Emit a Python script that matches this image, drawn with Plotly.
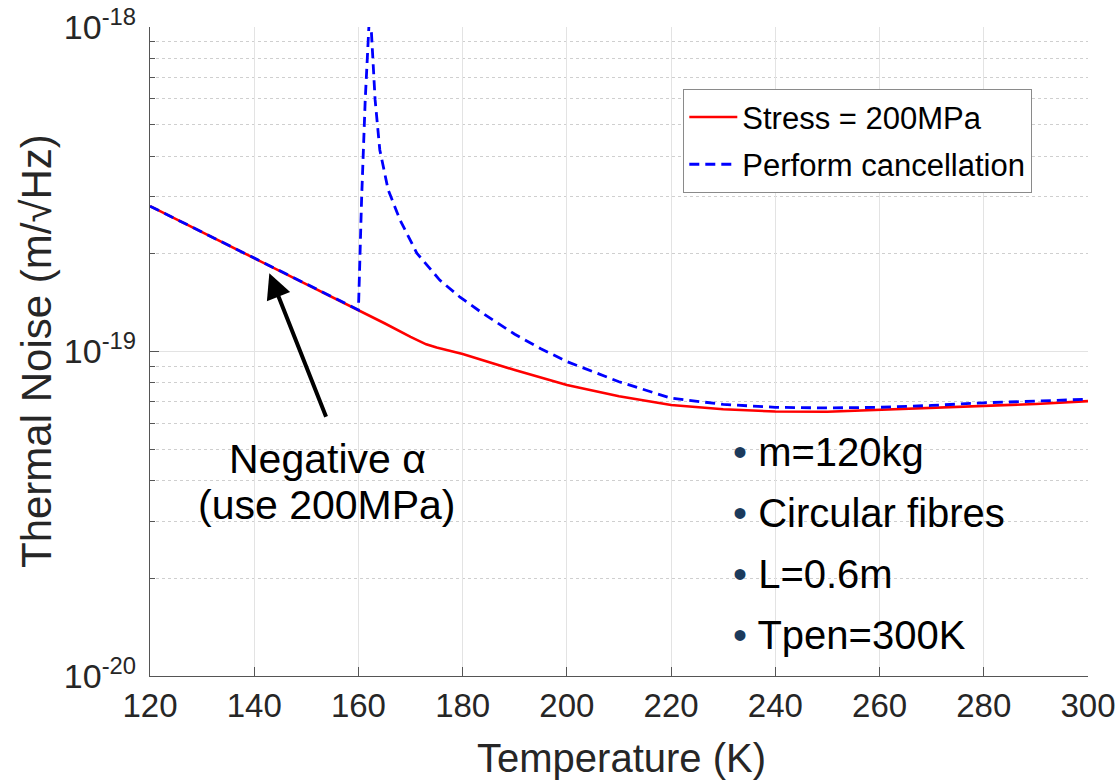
import plotly.graph_objects as go

# ---------------- data ----------------
temp_stress = [120, 125, 130, 135, 140, 145, 150, 155, 160, 165, 170, 173, 175,
               180, 190, 200, 210, 220, 230, 240, 250, 260, 270, 280, 290, 300]
noise_stress = [2.805e-19, 2.559e-19, 2.333e-19, 2.128e-19, 1.941e-19, 1.770e-19,
                1.614e-19, 1.472e-19, 1.343e-19, 1.222e-19, 1.109e-19, 1.052e-19,
                1.028e-19, 9.82e-20, 8.77e-20, 7.89e-20, 7.28e-20, 6.84e-20,
                6.64e-20, 6.53e-20, 6.52e-20, 6.61e-20, 6.67e-20, 6.76e-20,
                6.89e-20, 7.03e-20]

temp_cancel = [120, 125, 130, 135, 140, 145, 150, 155, 160, 160.6, 161.3, 162.0,
               162.2, 162.5, 163.2, 164.1, 165.7, 168.0, 171.2, 175.6, 179.5,
               183.3, 190, 195, 200, 210, 220, 230, 240, 250, 260, 270, 280, 290, 300]
noise_cancel = [2.805e-19, 2.559e-19, 2.333e-19, 2.128e-19, 1.941e-19, 1.770e-19,
                1.614e-19, 1.472e-19, 1.343e-19, 2.93e-19, 5.96e-19, 1.0e-18,
                1.023e-18, 9.57e-19, 5.96e-19, 4.18e-19, 3.15e-19, 2.54e-19,
                2.01e-19, 1.66e-19, 1.47e-19, 1.33e-19, 1.13e-19, 1.02e-19,
                9.31e-20, 8.07e-20, 7.18e-20, 6.87e-20, 6.73e-20, 6.70e-20,
                6.73e-20, 6.82e-20, 6.95e-20, 7.03e-20, 7.13e-20]

series_names = ["Stress = 200MPa", "Perform cancellation"]
x_ticks = [120, 140, 160, 180, 200, 220, 240, 260, 280, 300]
y_tick_vals = [1e-20, 1e-19, 1e-18]
y_tick_text = ["10<sup>-20</sup>", "10<sup>-19</sup>", "10<sup>-18</sup>"]
bullet_items = ["m=120kg", "Circular fibres", "L=0.6m", "Tpen=300K"]
note_lines = ["Negative α", "(use 200MPa)"]
x_title = "Temperature (K)"
y_title = "Thermal Noise (m/√Hz)"

# ---------------- figure ----------------
FONT = "Liberation Sans, Arial, Helvetica, sans-serif"
W, H = 1119, 780
ML, MR, MT, MB = 150, 31, 27, 104
PW, PH = W - ML - MR, H - MT - MB


def px_x(p):
    return (p - ML) / PW


def px_y(p):
    return (H - MB - p) / PH


fig = go.Figure()
fig.add_trace(go.Scatter(
    x=temp_stress, y=noise_stress, mode="lines", name=series_names[0],
    legendgroup="a",
    line=dict(color="#ff0000", width=2.6)))
fig.add_trace(go.Scatter(
    x=temp_cancel, y=noise_cancel, mode="lines", name=series_names[1],
    legendgroup="b",
    line=dict(color="#0000ff", width=2.8, dash="10px,6px")))

minor_vals = [k * 10.0 ** e for e in (-20, -19) for k in range(2, 10)]

fig.update_xaxes(
    range=[120, 300], tickmode="array", tickvals=x_ticks,
    showgrid=True, gridcolor="#e3e3e3", gridwidth=1,
    showline=True, linecolor="#555555", linewidth=1.3,
    ticks="inside", ticklen=9, tickcolor="#555555", tickwidth=1,
    tickfont=dict(family=FONT, size=33, color="#262626"),
    zeroline=False, mirror=False,
)
fig.update_yaxes(
    type="log", range=[-20, -18], tickmode="array",
    tickvals=y_tick_vals, ticktext=y_tick_text,
    showgrid=True, gridcolor="#e3e3e3", gridwidth=1,
    showline=True, linecolor="#555555", linewidth=1.3,
    ticks="inside", ticklen=9, tickcolor="#555555", tickwidth=1,
    ticklabelstandoff=6,
    tickfont=dict(family=FONT, size=34, color="#262626"),
    minor=dict(tickmode="array", tickvals=minor_vals, ticks="inside",
               ticklen=5, tickcolor="#555555", showgrid=True,
               gridcolor="#cfcfcf", griddash="dot", gridwidth=1),
    zeroline=False, mirror=False,
)

annotations = []
# axis titles
annotations.append(dict(
    text=x_title, xref="paper", yref="paper", x=px_x(621), y=px_y(758),
    xanchor="center", yanchor="middle", showarrow=False,
    font=dict(family=FONT, size=40, color="#262626")))
annotations.append(dict(
    text=y_title, xref="paper", yref="paper", x=px_x(36), y=px_y(351),
    xanchor="center", yanchor="middle", showarrow=False, textangle=-90,
    font=dict(family=FONT, size=42, color="#262626")))
# arrow
annotations.append(dict(
    x=142.9, y=-18.759, ax=153.9, ay=-19.206, xref="x", yref="y",
    axref="x", ayref="y", text="", showarrow=True,
    arrowhead=2, arrowwidth=4, arrowsize=1.25, arrowcolor="#000000"))
# note text
for line, ypx in zip(note_lines, [459, 505]):
    annotations.append(dict(
        text=line, xref="paper", yref="paper", x=px_x(327), y=px_y(ypx),
        xanchor="center", yanchor="middle", showarrow=False,
        font=dict(family=FONT, size=41, color="#000000")))
# bullet list
for item, ypx in zip(bullet_items, [452, 513, 574, 635]):
    annotations.append(dict(
        text='<span style="color:#1b3a5c">•</span> ' + item,
        xref="paper", yref="paper", x=px_x(731), y=px_y(ypx),
        xanchor="left", yanchor="middle", showarrow=False,
        font=dict(family=FONT, size=40, color="#000000")))

fig.update_layout(
    width=W, height=H,
    margin=dict(l=ML, r=MR, t=MT, b=MB, autoexpand=False),
    paper_bgcolor="white", plot_bgcolor="white",
    font=dict(family=FONT, color="#262626"),
    showlegend=True,
    legend=dict(
        x=px_x(683), y=px_y(89), xanchor="left", yanchor="top",
        bgcolor="white", bordercolor="#8a8a8a", borderwidth=1.3,
        font=dict(family=FONT, size=31, color="#000000"),
        tracegroupgap=4, traceorder="grouped", itemwidth=48),
    annotations=annotations,
)

fig.write_html("out.html")
